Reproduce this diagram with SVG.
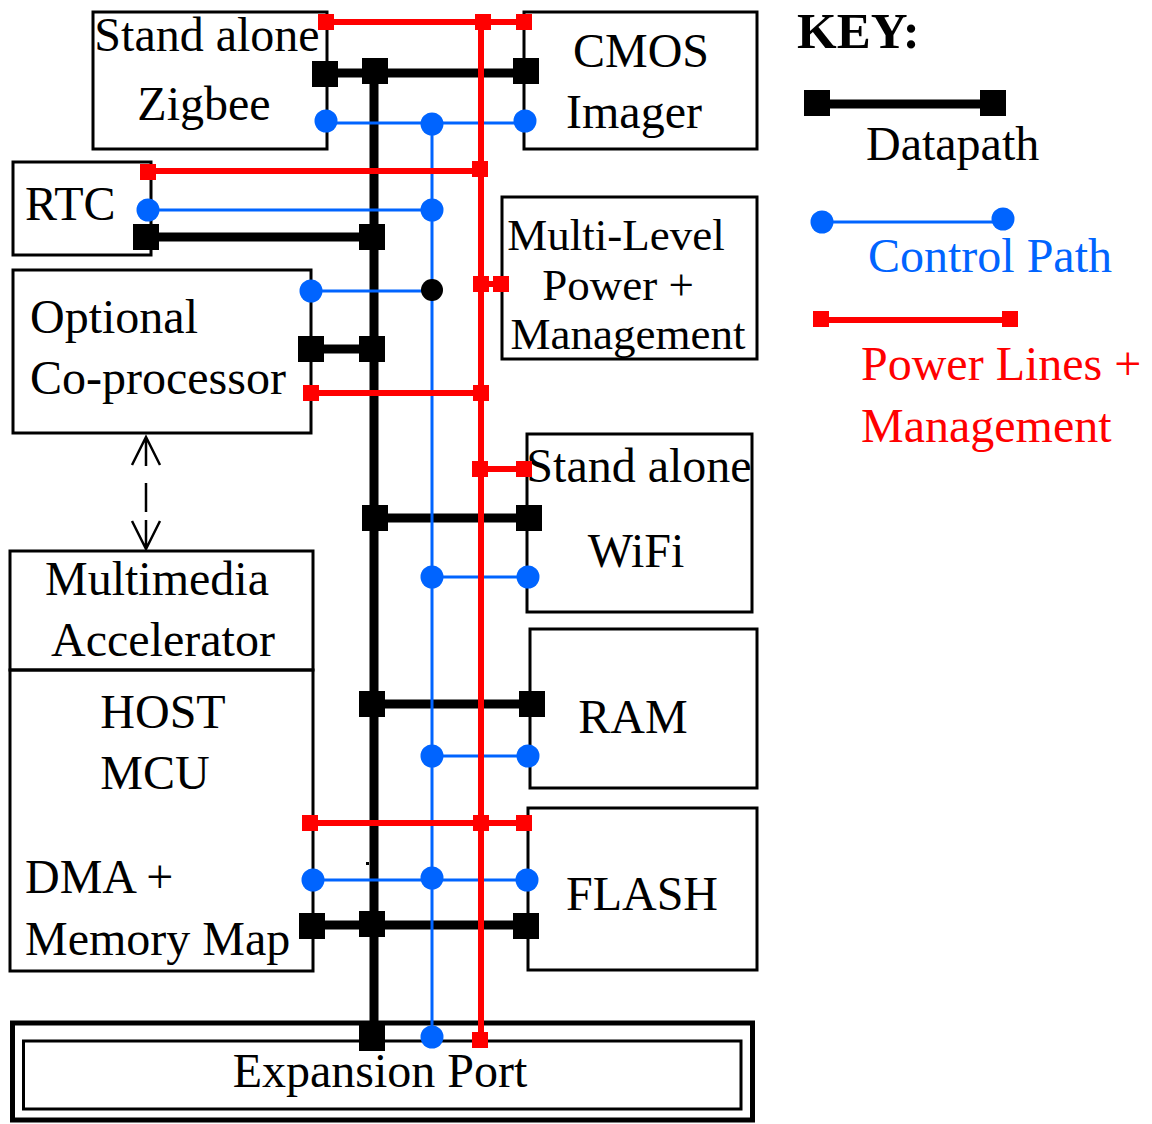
<svg xmlns="http://www.w3.org/2000/svg" xmlns:xlink="http://www.w3.org/1999/xlink" width="1152" height="1124" viewBox="0 0 1152 1124">
<style>
.box{fill:none;stroke:#000;stroke-width:3}
.t{font-family:"Liberation Serif","Times New Roman",serif;font-size:48px;fill:#000}
.s{font-size:45px}
.m{text-anchor:middle}
.dp{stroke:#000;stroke-width:9;fill:none}
.cp{stroke:#0064FF;stroke-width:3;fill:none}
.pw{stroke:#FF0000;stroke-width:6;fill:none}
.ar{stroke:#000;stroke-width:2.5;fill:none}
</style>
<defs>
<rect id="bs" x="-13" y="-13" width="26" height="26" fill="#000"/>
<rect id="rs" x="-8" y="-8" width="16" height="16" fill="#FF0000"/>
<circle id="bd" r="11.5" fill="#0064FF"/>
<circle id="kd" r="11" fill="#000"/>
</defs>
<rect width="1152" height="1124" fill="#fff"/>

<g id="zigbee"><rect class="box" x="93" y="12" width="234" height="137"/><text class="t m" x="207" y="51">Stand alone</text><text class="t m" x="204" y="120">Zigbee</text></g>
<g id="cmos"><rect class="box" x="524" y="12" width="233" height="137"/><text class="t m" x="641" y="67">CMOS</text><text class="t m" x="634" y="128">Imager</text></g>
<g id="rtc"><rect class="box" x="13" y="162" width="138" height="93"/><text class="t" x="25" y="220">RTC</text></g>
<g id="coproc"><rect class="box" x="13" y="270" width="298" height="163"/><text class="t" x="30" y="333">Optional</text><text class="t" x="30" y="394">Co-processor</text></g>
<g id="power"><rect class="box" x="502" y="197" width="255" height="162"/><text class="t s m" x="616" y="250">Multi-Level</text><text class="t s m" x="618" y="300">Power +</text><text class="t s m" x="628" y="349">Management</text></g>
<g id="wifi"><rect class="box" x="527" y="434" width="225" height="178"/><text class="t m" x="639" y="482">Stand alone</text><text class="t m" x="636" y="567">WiFi</text></g>
<g id="ram"><rect class="box" x="530" y="629" width="227" height="159"/><text class="t m" x="633" y="733">RAM</text></g>
<g id="flash"><rect class="box" x="528" y="808" width="229" height="162"/><text class="t m" x="642" y="910">FLASH</text></g>
<g id="multimedia"><rect class="box" x="10" y="551" width="303" height="119"/><text class="t m" x="157" y="595">Multimedia</text><text class="t m" x="163" y="656">Accelerator</text></g>
<g id="host"><rect class="box" x="10" y="670" width="303" height="301"/><text class="t m" x="163" y="728">HOST</text><text class="t m" x="155" y="789">MCU</text><text class="t" x="25" y="893">DMA +</text><text class="t" x="25" y="955">Memory Map</text></g>
<g id="expansion"><rect x="12.5" y="1023" width="740" height="97" fill="none" stroke="#000" stroke-width="5"/><rect class="box" x="23.5" y="1041" width="717.5" height="68"/><text class="t m" x="380" y="1087">Expansion Port</text></g>

<g id="key">
<text class="t" x="797" y="48" style="font-weight:bold;font-size:51px">KEY:</text>
<line class="dp" x1="817" y1="104" x2="993" y2="104"/><use xlink:href="#bs" x="817" y="103"/><use xlink:href="#bs" x="993" y="103"/>
<text class="t" x="866" y="160">Datapath</text>
<line class="cp" x1="822" y1="222" x2="1003" y2="222"/><use xlink:href="#bd" x="822" y="222"/><use xlink:href="#bd" x="1003" y="219"/>
<text class="t" x="868" y="272" style="fill:#0064FF">Control Path</text>
<line class="pw" x1="821" y1="320" x2="1010" y2="320"/><use xlink:href="#rs" x="821" y="319"/><use xlink:href="#rs" x="1010" y="319"/>
<text class="t" x="861" y="380" style="fill:#FF0000">Power Lines +</text>
<text class="t" x="861" y="442" style="fill:#FF0000">Management</text>
</g>

<g id="connectors">
<line class="dp" x1="374" y1="71" x2="374" y2="1038"/>
<line class="dp" x1="325" y1="73" x2="526" y2="73"/>
<line class="dp" x1="146" y1="237" x2="374" y2="237"/>
<line class="dp" x1="311" y1="349" x2="374" y2="349"/>
<line class="dp" x1="374" y1="518" x2="529" y2="518"/>
<line class="dp" x1="374" y1="704" x2="532" y2="704"/>
<line class="dp" x1="312" y1="925" x2="526" y2="925"/>
<rect x="366" y="862" width="3" height="3" fill="#000"/>
<line class="cp" x1="432" y1="122" x2="432" y2="1037"/>
<line class="cp" x1="326" y1="123" x2="525" y2="123"/>
<line class="cp" x1="148" y1="210" x2="432" y2="210"/>
<line class="cp" x1="311" y1="291" x2="432" y2="291"/>
<line class="cp" x1="432" y1="577" x2="528" y2="577"/>
<line class="cp" x1="432" y1="756" x2="528" y2="756"/>
<line class="cp" x1="313" y1="880" x2="527" y2="880"/>
<line class="pw" x1="481" y1="22" x2="481" y2="1040"/>
<line class="pw" x1="326" y1="22" x2="524" y2="22"/>
<line class="pw" x1="148" y1="171" x2="481" y2="171"/>
<line class="pw" x1="481" y1="284" x2="501" y2="284"/>
<line class="pw" x1="311" y1="393" x2="481" y2="393"/>
<line class="pw" x1="481" y1="469" x2="524" y2="469"/>
<line class="pw" x1="310" y1="823" x2="524" y2="823"/>
<use xlink:href="#bs" x="325" y="74"/><use xlink:href="#bs" x="375" y="71"/><use xlink:href="#bs" x="526" y="71"/>
<use xlink:href="#bs" x="146" y="237"/><use xlink:href="#bs" x="372" y="237"/>
<use xlink:href="#bs" x="311" y="349"/><use xlink:href="#bs" x="372" y="349"/>
<use xlink:href="#bs" x="375" y="518"/><use xlink:href="#bs" x="529" y="518"/>
<use xlink:href="#bs" x="372" y="704"/><use xlink:href="#bs" x="532" y="704"/>
<use xlink:href="#bs" x="312" y="926"/><use xlink:href="#bs" x="372" y="924"/><use xlink:href="#bs" x="526" y="926"/>
<use xlink:href="#bs" x="372" y="1038"/>
<use xlink:href="#bd" x="326" y="121"/><use xlink:href="#bd" x="432" y="124"/><use xlink:href="#bd" x="525" y="121"/>
<use xlink:href="#bd" x="148" y="210"/><use xlink:href="#bd" x="432" y="210"/>
<use xlink:href="#bd" x="311" y="291"/><use xlink:href="#kd" x="432" y="290"/>
<use xlink:href="#bd" x="432" y="577"/><use xlink:href="#bd" x="528" y="577"/>
<use xlink:href="#bd" x="432" y="756"/><use xlink:href="#bd" x="528" y="756"/>
<use xlink:href="#bd" x="313" y="880"/><use xlink:href="#bd" x="432" y="878"/><use xlink:href="#bd" x="527" y="880"/>
<use xlink:href="#bd" x="432" y="1037"/>
<use xlink:href="#rs" x="326" y="22"/><use xlink:href="#rs" x="483" y="22"/><use xlink:href="#rs" x="524" y="22"/>
<use xlink:href="#rs" x="148" y="172"/><use xlink:href="#rs" x="480" y="169"/>
<use xlink:href="#rs" x="481" y="284"/><use xlink:href="#rs" x="501" y="284"/>
<use xlink:href="#rs" x="311" y="393"/><use xlink:href="#rs" x="481" y="393"/>
<use xlink:href="#rs" x="480" y="469"/><use xlink:href="#rs" x="524" y="469"/>
<use xlink:href="#rs" x="310" y="823"/><use xlink:href="#rs" x="481" y="823"/><use xlink:href="#rs" x="524" y="823"/>
<use xlink:href="#rs" x="480" y="1040"/>
<path class="ar" d="M146,437 V466 M132,465 L146,437 L160,465"/>
<path class="ar" d="M146,483 V512"/>
<path class="ar" d="M146,520 V549 M132,521 L146,549 L160,521"/>
</g>
</svg>
